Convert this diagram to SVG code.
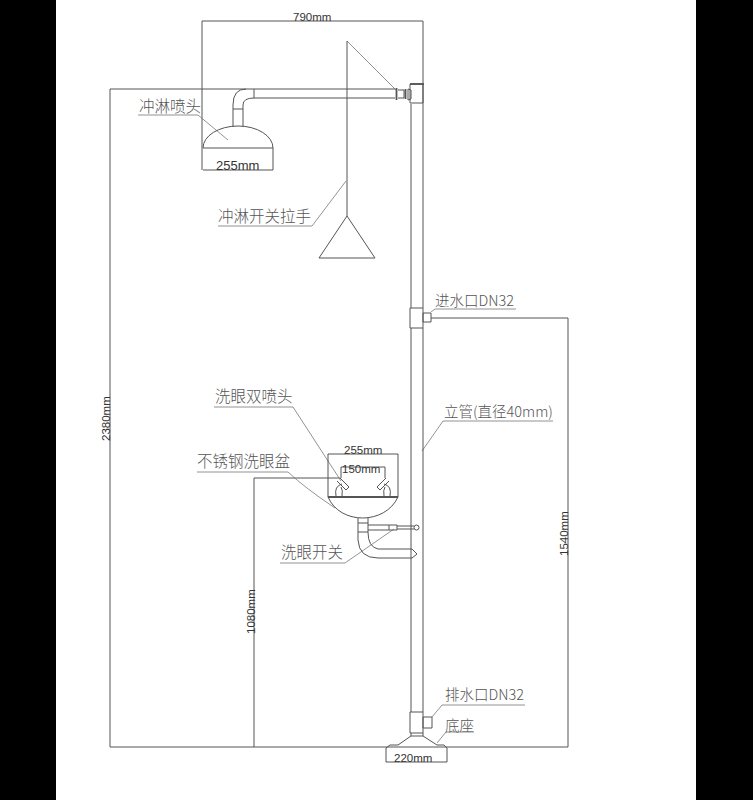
<svg xmlns="http://www.w3.org/2000/svg" width="753" height="800" viewBox="0 0 753 800">
<style>
.l{fill:none;stroke:#555;stroke-width:1}
.t{fill:none;stroke:#777;stroke-width:.8}
.b{fill:none;stroke:#555;stroke-width:1.8}
.d{font-family:"Liberation Sans",Arial,sans-serif;font-size:11.500px;fill:#333}
.e{font-size:13px}
.c{font-family:"Noto Sans CJK SC","Liberation Sans",sans-serif;font-size:15.500px;fill:#555;font-weight:300}
.m{font-size:14.500px}
</style>
<rect width="753" height="800" fill="#fff"/>
<rect width="56" height="800" fill="#000"/>
<rect x="696" width="57" height="800" fill="#000"/>
<g id="connectors">
<path class="l" d="M202 170V21H423M110 747V89H254M254 747V478H340M110 747H568V318H431"/>
<path class="t" d="M138 115H198L228 140M218 226H312L346 181M347 41L396 90M214 407H293L341 481M197 472H288Q305 488 335 508M280 563H345L394 529M431 312L435 309H516M553 421H443L422 451M432 717L442 705H525M437 743L446 732H474"/>
</g>
<g id="shower-head">
<path class="l" d="M203 148A35 22 0 0 1 273 148M203 148H273M203 170H273V148"/>
<path class="l" d="M233 127V105Q233 89 246 89M243 127V105Q243 98 254 98M233 109H243M254 89V98"/>
</g>
<g id="shower-arm">
<path class="l" d="M254 89H395M254 98H395M398 90H404V98H398"/>
<path class="b" d="M396.500 88V100M405.500 89V99"/>
<path class="l" d="M408 89L411 90V99L408 100Z"/>
</g>
<g id="pull-handle">
<path class="l" d="M347 41V216M347 216L319 258H375Z"/>
</g>
<g id="riser">
<path class="l" d="M411 104V308M423 21V308M411 328V712M423 328V712M410 84H423V103H410Z"/>
<path class="b" d="M410 84H424"/>
</g>
<g id="inlet">
<path class="l" d="M410 308H423V328H410ZM423 313H431V322H423Z"/>
</g>
<g id="eyewash-basin">
<path class="l" d="M328 497V454H398V497M328 497C340 525 385 525 398 497M341 478V467H385V478"/>
<path class="b" d="M328 497H398"/>
</g>
<g id="eyewash-nozzles">
<path class="l" d="M340 478L349 487L346 490L337 481M336 496Q334 486 342 484M342 496Q343 490 341 487M386 478L377 487L380 490L389 481M390 496Q392 486 384 484M384 496Q383 490 385 487"/>
</g>
<g id="eyewash-valve">
<path class="l" d="M358 518V523M368 518V523M358 523H368V532H358ZM368 525H389M368 530H389M389 525H397V530H389ZM397 526H414M397 529H414"/>
<circle class="l" cx="416.500" cy="527.500" r="2.500"/>
<path class="l" d="M358 532V540Q359 558 378 558H412L417 554L412 549H378Q368 547 368 532"/>
</g>
<g id="drain">
<path class="l" d="M410 712H423V733H410ZM423 717H432V728H423Z"/>
</g>
<g id="base">
<path class="l" d="M411 733V736H423V733M411 736L398 745H390L386 748V762H447V748L444 745H437L423 736"/>
</g>
<g id="labels">
<text class="d" x="293" y="21">790mm</text>
<text class="d e" x="216" y="170">255mm</text>
<text class="d" x="344" y="454">255mm</text>
<text class="d" x="342" y="473">150mm</text>
<text class="d" x="394" y="762">220mm</text>
<text class="d" transform="translate(110 441) rotate(-90)">2380mm</text>
<text class="d" transform="translate(255 634) rotate(-90)">1080mm</text>
<text class="d" transform="translate(568 556) rotate(-90)">1540mm</text>
<text class="c" x="139" y="112">冲淋喷头</text>
<text class="c" x="218" y="222">冲淋开关拉手</text>
<text class="c" x="215" y="402">洗眼双喷头</text>
<text class="c" x="197" y="467">不锈钢洗眼盆</text>
<text class="c" x="281" y="558">洗眼开关</text>
<text class="c m" x="435" y="306">进水口DN32</text>
<text class="c m" x="444" y="417">立管(直径40mm)</text>
<text class="c m" x="445" y="700">排水口DN32</text>
<text class="c m" x="445" y="731">底座</text>
</g>
</svg>
